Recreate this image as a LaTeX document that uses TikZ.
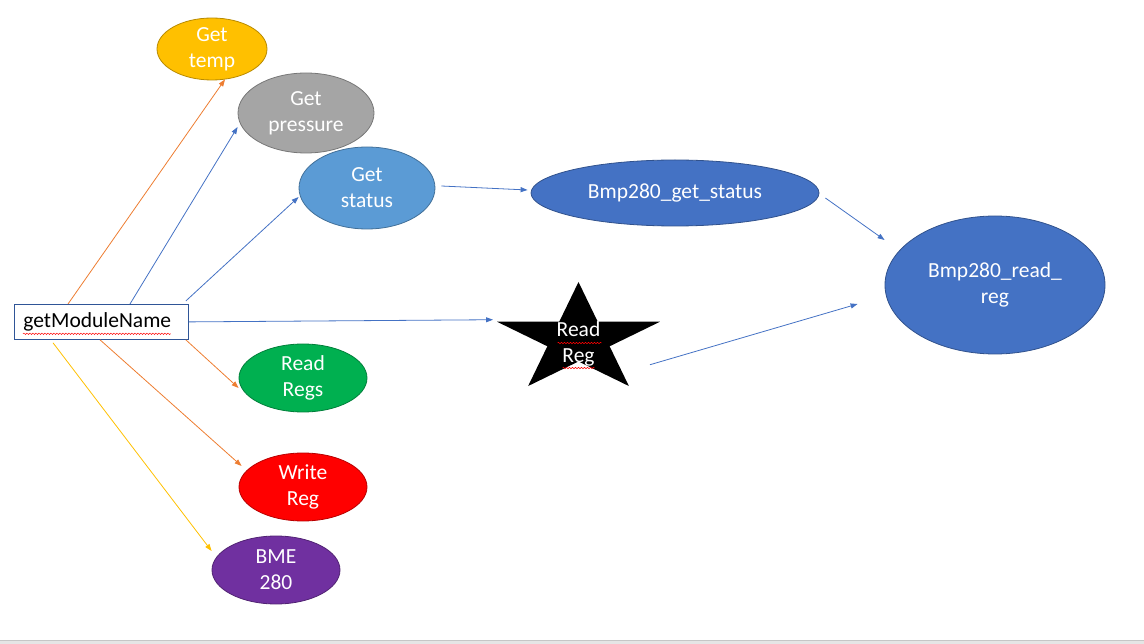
\documentclass[tikz,border=0pt]{standalone}
\usepackage{fontspec}
\setmainfont{Carlito}
\usetikzlibrary{shapes.geometric,arrows.meta,decorations.pathmorphing}
\definecolor{lineorange}{HTML}{ED7D31}
\definecolor{lineblue}{HTML}{4472C4}
\definecolor{lineyellow}{HTML}{FFC000}
\definecolor{tempfill}{HTML}{FFC000}
\definecolor{pressurefill}{HTML}{A5A5A5}
\definecolor{statusfill}{HTML}{5B9BD5}
\definecolor{driverfill}{HTML}{4472C4}
\definecolor{regsfill}{HTML}{00B050}
\definecolor{writefill}{HTML}{FF0000}
\definecolor{bmefill}{HTML}{7030A0}
\definecolor{boxborder}{HTML}{2F5597}
\tikzset{
  > = {Triangle[length=7pt,width=5pt]},
  pixel frame/.style = {x=1pt, y=-1pt, font=\fontsize{21.5}{26}\selectfont},
  task/.style = {ellipse, draw=#1!72!black, fill=#1, text=white, align=center, inner sep=0pt, line width=0.8pt},
  module box/.style = {draw=boxborder, fill=white, line width=0.8pt, text width=156pt, align=left, inner xsep=9pt, minimum height=35pt},
  call/.style = {->, draw=#1, line width=0.8pt},
  squiggle/.style = {draw=red, line width=0.5pt, decorate, decoration={snake, amplitude=0.7pt, segment length=3pt}},
}

\begin{document}
\begin{tikzpicture}[pixel frame]
  \useasboundingbox (0,0) rectangle (1144,644);

  %% define the called functions
  \node[task=tempfill, minimum width=110pt, minimum height=62pt] (temp) at (212,49) {Get\\temp};
  \node[task=pressurefill, minimum width=136pt, minimum height=80pt] (pressure) at (306,113) {Get\\pressure};
  \node[task=statusfill, minimum width=136pt, minimum height=82pt] (status) at (367,188) {Get\\status};
  \node[task=regsfill, minimum width=128pt, minimum height=68pt] (readregs) at (303,378) {Read\\Regs};
  \node[task=writefill, minimum width=128pt, minimum height=68pt] (writereg) at (303,487) {Write\\Reg};
  \node[task=bmefill, minimum width=128pt, minimum height=68pt] (bme) at (276,570) {BME\\280};

  % draw the driver functions
  \node[task=driverfill, minimum width=288pt, minimum height=66pt] (getstatus) at (675,193) {Bmp280\_get\_status};
  \node[task=driverfill, minimum width=220pt, minimum height=138pt] (readreg) at (995,285) {Bmp280\_read\_\\reg};

  % draw the star of the single read
  \begin{scope}[shift={(578.5,339.5)}, xscale=1.49]
    \fill[black] (-90:57.5) -- (-54:21.97) -- (-18:57.5) -- (18:21.97) -- (54:57.5) -- (90:21.97)
      -- (126:57.5) -- (162:21.97) -- (198:57.5) -- (234:21.97) -- cycle;
    \coordinate (star_w) at (198:57.5);
    \coordinate (star_e) at (-18:57.5);
  \end{scope}
  \node[text=white, align=center, inner sep=0pt] (rreg) at (578.5,344) {Read\\Reg};
  \draw[squiggle] ([shift={(-21,-1)}]rreg.center) -- ([shift={(23,-1)}]rreg.center);
  \draw[squiggle] ([shift={(-16,24)}]rreg.center) -- ([shift={(16,24)}]rreg.center);

  % draw the module box
  \node[module box, anchor=north west] (gmn) at (14,304) {getModuleName};
  \draw[squiggle] ([shift={(9,-6)}]gmn.south west) -- ([shift={(-18,-6)}]gmn.south east);

  % draw calls from the module box
  \draw[call=lineorange] ([xshift=54pt]gmn.north west) -- ([shift={(13,-1)}]temp.south);
  \draw[call=lineblue] ([xshift=116pt]gmn.north west) -- ([shift={(0,14)}]pressure.west);
  \draw[call=lineblue] ([shift={(-3,-3)}]gmn.north east) -- ([shift={(0,9)}]status.west);
  \draw[call=lineblue] (gmn.east) -- ([shift={(-4,-2)}]star_w);
  \draw[call=lineorange] ([xshift=-3pt]gmn.south east) -- ([shift={(0,10)}]readregs.west);
  \draw[call=lineorange] ([xshift=86pt]gmn.south west) -- ([shift={(3,-21)}]writereg.west);
  \draw[call=lineyellow] ([shift={(39,3)}]gmn.south west) -- ([shift={(0,-19)}]bme.west);

  % draw calls down to the driver
  \draw[call=lineblue] ([shift={(6,-2)}]status.east) -- ([shift={(-3,-3)}]getstatus.west);
  \draw[call=lineblue] ([shift={(6,5)}]getstatus.east) -- ([shift={(0,-45)}]readreg.west);
  \draw[call=lineblue] ([shift={(-10,43)}]star_e) -- ([shift={(-27,19)}]readreg.west);

  % window edge
  \fill[gray!20] (0,640.5) rectangle (1144,644);
  \draw[gray!45, line width=0.8pt] (0,640.5) -- (1144,640.5);
\end{tikzpicture}
\end{document}
